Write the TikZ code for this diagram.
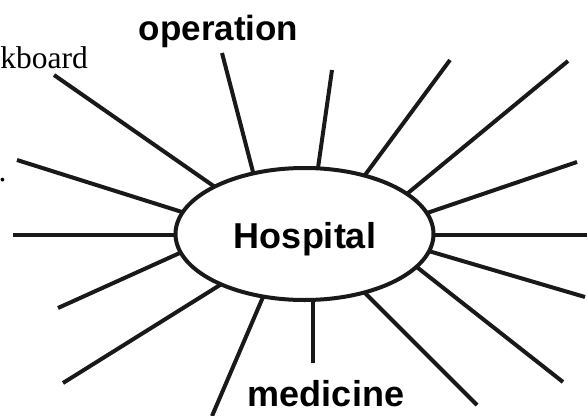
\documentclass[tikz,border=0pt]{standalone}
\usepackage{fontspec}
\setmainfont{Liberation Serif}
\setsansfont{Liberation Sans}
\usetikzlibrary{backgrounds,shapes.geometric}
\begin{document}
\begin{tikzpicture}[x=1pt,y=-1pt,
  spoke/.style={line width=4pt,black!90,shorten >=-4pt},
  bigword/.style={font=\sffamily\bfseries\fontsize{36}{40}\selectfont,inner sep=0pt,anchor=base},
  smallword/.style={font=\fontsize{31.5}{34}\selectfont,inner sep=0pt},
  hub/.style={ellipse,draw=black!90,line width=4pt,fill=white,minimum width=258pt,minimum height=132pt,inner sep=0pt}]
\useasboundingbox (0,0) rectangle (588,415);
\node[hub] (hosp) at (304.5,234) {};
\node[bigword] (hosptext) at (305,248) {Hospital};
\node[bigword,font=\sffamily\bfseries\fontsize{35}{40}\selectfont] (oper) at (218.5,40) {operation};
\node[bigword] (med) at (326,406) {medicine};
\node[smallword,anchor=base east] (kb) at (88,68) {kboard};
\node[smallword,anchor=base west] (dot) at (-1.5,181) {.};
% spoke ends
\coordinate (o1) at (54,75);   \coordinate (i1) at (215,187);
\coordinate (o2) at (17,160);  \coordinate (i2) at (182,212);
\coordinate (o3) at (13,235);  \coordinate (i3) at (176,235);
\coordinate (o4) at (58,308);  \coordinate (i4) at (182,252);
\coordinate (o5) at (63,383);  \coordinate (i5) at (220,285);
\coordinate (o6) at (212,416); \coordinate (i6) at (263,297);
\coordinate (o7) at (313,363); \coordinate (i7) at (313,299);
\coordinate (o8) at (477,405); \coordinate (i8) at (365,293);
\coordinate (o9) at (563,382); \coordinate (i9) at (418,268);
\coordinate (o10) at (585,297); \coordinate (i10) at (432,252);
\coordinate (o11) at (587,235); \coordinate (i11) at (433,235);
\coordinate (o12) at (577,162); \coordinate (i12) at (427,213);
\coordinate (o13) at (568,61);  \coordinate (i13) at (408,193);
\coordinate (o14) at (450,60);  \coordinate (i14) at (365,175);
\coordinate (o15) at (332,70);  \coordinate (i15) at (318,168);
\coordinate (o16) at (222,53);  \coordinate (i16) at (253,172);
\begin{scope}[on background layer]
\foreach \k in {1,...,16} {\draw[spoke] (o\k) -- (i\k);}
\end{scope}
\end{tikzpicture}
\end{document}
